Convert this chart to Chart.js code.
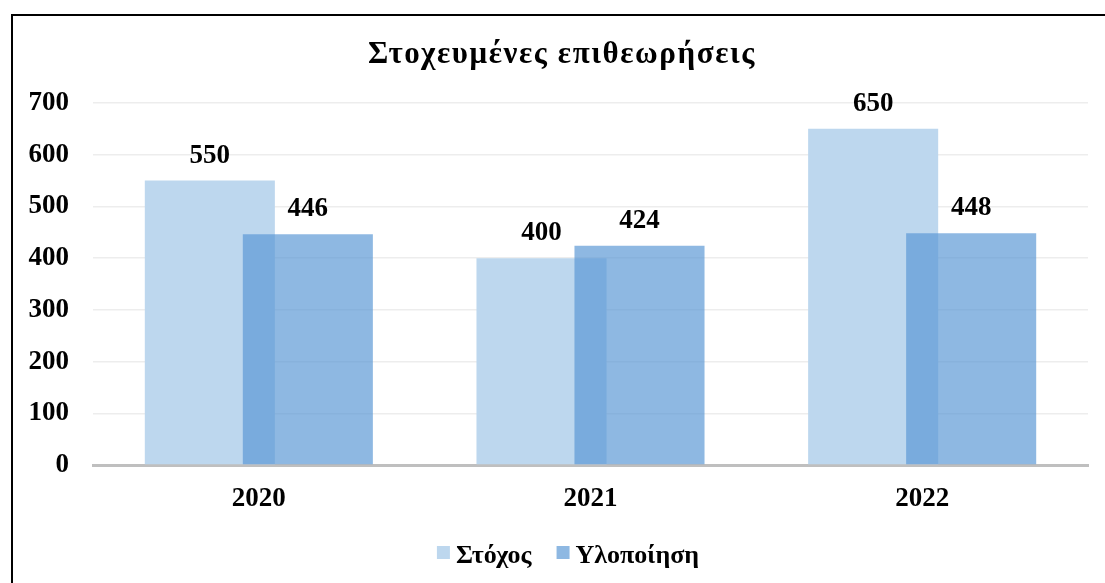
<!DOCTYPE html>
<html>
<head>
<meta charset="utf-8">
<script src="https://cdn.jsdelivr.net/npm/chart.js@4"></script>
<style>
html, body { margin: 0; padding: 0; background: #fff; overflow: hidden; }
#frame { position: absolute; left: 11px; top: 14px; width: 1300px; height: 800px; border-left: 2px solid #000; border-top: 2px solid #000; }
canvas { position: absolute; left: 0; top: 0; }
</style>
</head>
<body>
<div id="frame"></div>
<canvas id="inspectionsChart" width="1105" height="583"></canvas>
<script>
// values
var years = ['2020', '2021', '2022'];
var targetValues = [550, 400, 650];
var doneValues = [446, 424, 448];
var seriesNames = ['Στόχος', 'Υλοποίηση'];
var chartTitle = 'Στοχευμένες επιθεωρήσεις';

var serif = "'Liberation Serif', 'Times New Roman', serif";
var targetColor = '#bdd7ee';
var doneColor = 'rgba(88, 150, 212, 0.68)';

// chart.js paints dataset 0 last; the original has the second series on top
var doneOnTop = {
    id: 'doneOnTop',
    beforeDatasetDraw: function(chart, args) {
        if (args.index === 1) return false;
    },
    afterDatasetsDraw: function(chart) {
        chart.getDatasetMeta(1).controller.draw();
    }
};

var barLabels = {
    id: 'barLabels',
    afterDatasetsDraw: function(chart) {
        var ctx = chart.ctx;
        ctx.save();
        ctx.font = 'bold 27px ' + serif;
        ctx.fillStyle = '#000';
        ctx.textAlign = 'center';
        chart.data.datasets.forEach(function(ds, i) {
            chart.getDatasetMeta(i).data.forEach(function(bar, j) {
                ctx.fillText(ds.data[j], bar.x, bar.y - 18);
            });
        });
        ctx.restore();
    }
};

// title and legend drawn by hand so they sit where the original has them
var headingAndLegend = {
    id: 'headingAndLegend',
    afterDraw: function(chart) {
        var ctx = chart.ctx;
        ctx.save();
        ctx.fillStyle = '#000';
        ctx.textAlign = 'left';
        ctx.font = 'bold 31px ' + serif;
        ctx.letterSpacing = '1.6px';
        var tw = ctx.measureText(chartTitle).width;
        ctx.fillText(chartTitle, 562 - tw / 2, 63);

        ctx.letterSpacing = '0px';
        ctx.font = 'bold 26px ' + serif;
        var box = 13, gap = 6, itemGap = 25;
        var widths = seriesNames.map(function(n) { return ctx.measureText(n).width; });
        var total = widths[0] + widths[1] + 2 * (box + gap) + itemGap;
        var x = 568 - total / 2;
        chart.data.datasets.forEach(function(ds, i) {
            ctx.fillStyle = ds.backgroundColor;
            ctx.fillRect(x, 546, box, box);
            ctx.fillStyle = '#000';
            ctx.fillText(ds.label, x + box + gap, 563);
            x += box + gap + widths[i] + itemGap;
        });
        ctx.restore();
    }
};

var chart = new Chart(document.getElementById('inspectionsChart'), {
    type: 'bar',
    data: {
        labels: years,
        datasets: [{
            label: seriesNames[0],
            data: targetValues,
            backgroundColor: targetColor,
            categoryPercentage: 0.591,
            barPercentage: 1.327
        }, {
            label: seriesNames[1],
            data: doneValues,
            backgroundColor: doneColor,
            categoryPercentage: 0.591,
            barPercentage: 1.327
        }]
    },
    options: {
        responsive: false,
        devicePixelRatio: 1,
        animation: false,
        layout: { padding: { left: 0, right: 17, top: 103, bottom: 0 } },
        plugins: {
            legend: { display: false },
            title: { display: false },
            tooltip: { enabled: false }
        },
        scales: {
            x: {
                grid: { display: false, drawTicks: false },
                border: { color: '#bfbfbf', width: 3 },
                ticks: { color: '#000', padding: 18, font: { family: serif, size: 27, weight: 'bold' } },
                afterFit: function(scale) { scale.height = 118; }
            },
            y: {
                min: 0,
                max: 700,
                ticks: { stepSize: 100, color: '#000', padding: 24, font: { family: serif, size: 27, weight: 'bold' } },
                grid: { color: '#ededed', lineWidth: 1.5, drawTicks: false },
                border: { display: false },
                afterFit: function(scale) { scale.width = 93; }
            }
        }
    },
    plugins: [doneOnTop, barLabels, headingAndLegend]
});
</script>
</body>
</html>
